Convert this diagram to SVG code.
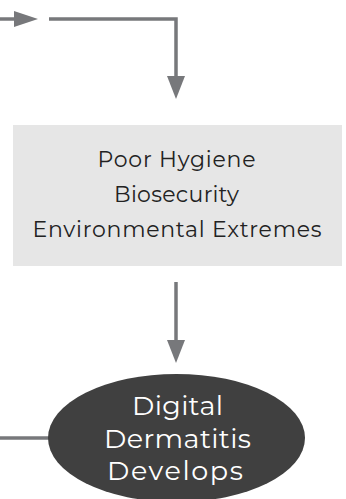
<svg xmlns="http://www.w3.org/2000/svg" width="346" height="499" viewBox="0 0 346 499">
  <style>
    .conn { fill: none; stroke: #77787b; stroke-width: 3.5; }
    .head { fill: #77787b; }
    .box { fill: #e6e6e6; }
    .oval { fill: #404040; }
    .t { font-family: "Montserrat", "Open Sans", "Liberation Sans", sans-serif; text-anchor: middle; }
    .dark { fill: #222; font-size: 22px; }
    .light { fill: #fff; font-size: 27px; }
  </style>
  <g id="connectors">
    <path class="conn" d="M0 19 H16"/>
    <polygon class="head" points="14,11 38,19 14,27"/>
    <path class="conn" d="M49 19 H176 V78"/>
    <polygon class="head" points="167,76 185,76 176,99"/>
    <path class="conn" d="M176 282 V342"/>
    <polygon class="head" points="167,340 185,340 176,363"/>
    <path class="conn" d="M0 438 H50"/>
  </g>
  <g id="factors">
    <rect class="box" x="13" y="125" width="329" height="141"/>
    <text class="t dark" x="176.5" y="167" textLength="158" lengthAdjust="spacing">Poor Hygiene</text>
    <text class="t dark" x="176.5" y="201.5" textLength="125" lengthAdjust="spacing">Biosecurity</text>
    <text class="t dark" x="177" y="236.5" textLength="289" lengthAdjust="spacing">Environmental Extremes</text>
  </g>
  <g id="outcome">
    <ellipse class="oval" cx="176.5" cy="438" rx="128.5" ry="64"/>
    <text class="t light" x="177.5" y="415" textLength="91" lengthAdjust="spacing">Digital</text>
    <text class="t light" x="177.5" y="448" textLength="147" lengthAdjust="spacing">Dermatitis</text>
    <text class="t light" x="175" y="480" textLength="136" lengthAdjust="spacing">Develops</text>
  </g>
</svg>
